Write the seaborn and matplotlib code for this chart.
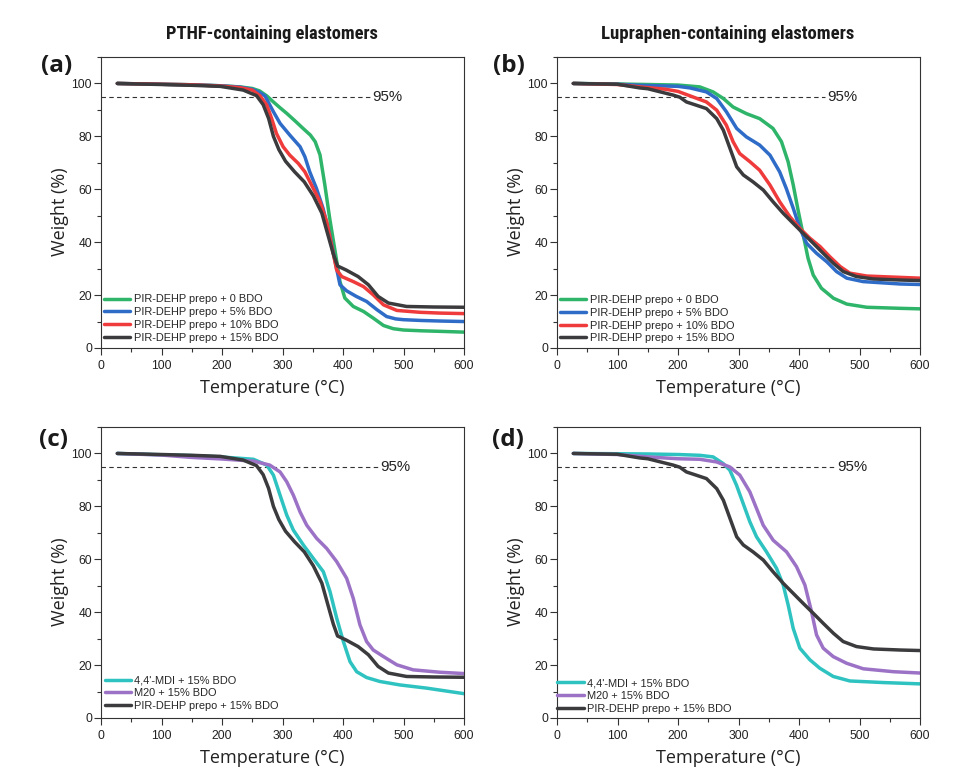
import matplotlib
matplotlib.use("Agg")
import matplotlib.pyplot as plt
from matplotlib import font_manager
from matplotlib.ticker import MultipleLocator
import pandas as pd
import seaborn as sns

# ---------------- TGA data (temperature in °C, residual weight in %) ----------------
# PTHF-containing elastomers
pthf_0_T = [27, 100, 150, 200, 230, 250, 262, 274, 285, 296, 307, 320, 334, 346, 354, 362, 370,
            378, 387, 395, 403, 417, 434, 450, 467, 483, 500, 530, 560, 600]
pthf_0_W = [100, 99.7, 99.5, 99.1, 98.7, 98.1, 97.2, 95.3, 93.0, 90.8, 88.7, 86.0, 83.0, 80.5, 78.0,
            73.0, 61.6, 49.0, 36.5, 25.1, 18.9, 15.7, 13.8, 11.3, 8.5, 7.3, 6.8, 6.5, 6.3, 6.0]

pthf_5_T = [27, 100, 150, 200, 230, 250, 262, 271, 285, 296, 312, 329, 337, 345, 356, 367, 378,
            387, 395, 406, 422, 439, 456, 472, 487, 500, 530, 560, 600]
pthf_5_W = [100, 99.7, 99.5, 99.1, 98.6, 97.8, 96.6, 95.3, 89.3, 84.9, 80.5, 76.1, 72.3, 66.6, 60.4,
            52.8, 42.8, 32.7, 23.9, 21.6, 19.5, 17.6, 14.5, 11.9, 11.0, 10.7, 10.4, 10.2, 10.0]

pthf_10_T = [27, 100, 150, 200, 230, 250, 263, 274, 282, 290, 301, 312, 326, 337, 348, 362, 373,
             381, 389.5, 398, 417, 434, 450, 467, 489, 527, 560, 600]
pthf_10_W = [100, 99.7, 99.5, 99.0, 98.4, 97.5, 95.3, 91.8, 86.8, 81.1, 76.1, 72.9, 69.8, 66.6, 61.6,
             55.3, 47.8, 39.0, 29.5, 27.0, 25.1, 23.2, 20.1, 16.3, 14.2, 13.5, 13.2, 13.0]

pthf_15_T = [27, 100, 150, 197, 235, 257, 268, 277, 285, 294, 305, 320, 336, 351, 365, 376, 384,
             391, 405, 425, 442, 458, 475, 505, 550, 600]
pthf_15_W = [100, 99.6, 99.3, 98.9, 97.5, 95.4, 92.0, 86.8, 80.0, 75.0, 70.6, 66.6, 62.8, 57.5, 51.0,
             42.0, 35.5, 31.0, 29.5, 27.0, 23.9, 19.5, 17.0, 15.7, 15.5, 15.4]

# Lupraphen-containing elastomers
lup_0_T = [27, 100, 150, 200, 236, 258, 275, 291, 313, 335, 357, 371, 382, 390.5, 399, 407, 415,
           423.5, 437, 457, 479, 512, 567, 600]
lup_0_W = [100, 99.8, 99.6, 99.4, 98.7, 96.8, 94.3, 91.1, 88.6, 86.7, 83.0, 78.0, 70.4, 61.6, 51.5,
           42.7, 33.9, 27.6, 22.6, 18.8, 16.6, 15.4, 15.0, 14.8]

lup_5_T = [27, 100, 137, 200, 220, 247, 264, 280, 297, 313, 335, 352, 368, 379, 390.5, 401.5, 412.5,
           429, 446, 462, 479, 506, 567, 600]
lup_5_W = [100, 99.7, 99.3, 98.9, 98.3, 96.8, 94.3, 89.3, 83.0, 79.8, 76.7, 72.9, 66.6, 60.3, 52.8,
           45.2, 39.6, 35.8, 32.6, 28.9, 26.4, 25.1, 24.2, 24.0]

lup_10_T = [27, 100, 137, 180, 200, 220, 247, 264, 280, 291, 302, 319, 335, 352, 368, 385, 401.5,
            418, 435, 451, 468, 484, 512, 567, 600]
lup_10_W = [100, 99.6, 98.7, 97.8, 97.0, 95.3, 93.0, 89.9, 84.2, 78.0, 73.5, 70.4, 67.2, 61.6, 55.3,
            49.6, 45.2, 41.5, 38.3, 34.5, 30.8, 28.3, 27.2, 26.7, 26.4]

lup_15_T = [27, 100, 137, 150, 192, 203, 214, 230, 247, 264, 275, 286, 297, 308, 324, 341, 357, 374,
            390.5, 407, 423.5, 440, 457, 473, 495, 523, 567, 600]
lup_15_W = [100, 99.7, 98.3, 98.0, 95.6, 94.8, 93.0, 91.8, 90.5, 86.7, 82.3, 75.4, 68.5, 65.4, 62.8,
            59.7, 55.3, 50.9, 47.1, 43.3, 39.6, 35.8, 32.0, 28.9, 27.0, 26.1, 25.7, 25.5]

# Reference isocyanates with 15% BDO, PTHF system
mdi_pthf_T = [27, 100, 150, 197, 252, 274, 285, 296, 307, 318, 334.5, 351, 367.5, 378.5, 389.6,
              400.6, 411.6, 422.6, 439, 461, 494, 538, 600]
mdi_pthf_W = [100, 99.5, 99.2, 98.7, 97.8, 95.6, 91.8, 84.2, 76.7, 71.0, 65.4, 60.3, 55.3, 47.8, 37.7,
              28.9, 21.3, 17.5, 15.3, 13.8, 12.5, 11.3, 9.2]

m20_pthf_T = [27, 100, 150, 200, 252, 279, 296, 307, 318, 329, 340, 356.5, 373, 389.6, 406, 417, 428,
              439, 450, 467, 489, 516, 560, 600]
m20_pthf_W = [100, 99.4, 98.5, 97.9, 97.1, 95.6, 93.0, 89.3, 84.2, 77.9, 72.9, 67.9, 64.1, 59.1, 52.8,
              45.2, 35.2, 28.9, 25.7, 23.2, 20.1, 18.2, 17.3, 16.8]

# Reference isocyanates with 15% BDO, Lupraphen system
mdi_lup_T = [27, 100, 150, 200, 236, 258, 274.6, 285.6, 296.7, 307.7, 318.7, 329.8, 346.3, 362.8,
             373.9, 382.1, 390.4, 401.4, 418, 434.5, 456.6, 484, 539, 600]
mdi_lup_W = [100, 99.9, 99.8, 99.6, 99.3, 98.7, 96.2, 93.7, 88.0, 81.1, 74.2, 68.5, 62.8, 56.6, 50.3,
             42.7, 33.9, 26.4, 22.0, 18.8, 15.7, 14.0, 13.4, 12.9]

m20_lup_T = [27, 100, 150, 200, 236, 263.6, 285.6, 302.2, 318.7, 329.8, 340.8, 357.3, 379.4, 395.9,
             409.7, 420.7, 429, 440, 456.6, 478.6, 506.2, 556, 600]
m20_lup_W = [100, 99.6, 98.7, 98.0, 97.8, 96.8, 94.9, 91.8, 85.5, 79.2, 72.9, 67.2, 62.8, 57.2, 50.3,
             40.2, 31.4, 26.4, 23.2, 20.7, 18.6, 17.5, 17.0]

bdo_labels = ["PIR-DEHP prepo + 0 BDO", "PIR-DEHP prepo + 5% BDO",
              "PIR-DEHP prepo + 10% BDO", "PIR-DEHP prepo + 15% BDO"]
iso_labels = ["4,4'-MDI + 15% BDO", "M20 + 15% BDO", "PIR-DEHP prepo + 15% BDO"]
column_titles = ["PTHF-containing elastomers", "Lupraphen-containing elastomers"]
panel_letters = ["(a)", "(b)", "(c)", "(d)"]

threshold = 95
threshold_label = "95%"

C_GREEN, C_BLUE, C_RED, C_DARK = "#2fb56a", "#2f6cc8", "#ef3b3b", "#3b3b3e"
C_CYAN, C_PURPLE = "#2ec3c0", "#9c72c6"

# ---------------- styling ----------------
sns.set_theme(style="ticks")
plt.rcParams["font.family"] = ["Liberation Sans", "DejaVu Sans"]
plt.rcParams["axes.edgecolor"] = "#333333"
plt.rcParams["axes.linewidth"] = 0.8

# narrow bold face for the column headings, best available
installed = {f.name for f in font_manager.fontManager.ttflist}
heading_family = next((n for n in ["Liberation Sans Narrow", "Roboto Condensed",
                                   "Open Sans Condensed", "DejaVu Sans Condensed",
                                   "Noto Sans Condensed", "Liberation Sans"]
                       if n in installed), "DejaVu Sans")

W_PX, H_PX = 957, 771
fig = plt.figure(figsize=(W_PX / 100, H_PX / 100), dpi=100)


def axes_rect(left, top, right, bottom):
    return [left / W_PX, 1 - bottom / H_PX, (right - left) / W_PX, (bottom - top) / H_PX]


panels = [
    dict(rect=axes_rect(101, 57, 464, 348),
         series=[(bdo_labels[0], pthf_0_T, pthf_0_W, C_GREEN),
                 (bdo_labels[1], pthf_5_T, pthf_5_W, C_BLUE),
                 (bdo_labels[2], pthf_10_T, pthf_10_W, C_RED),
                 (bdo_labels[3], pthf_15_T, pthf_15_W, C_DARK)],
         dash_end=445, legend_anchor=(0.008, 0.018), letter_xy=(41, 66)),
    dict(rect=axes_rect(557, 57, 920, 348),
         series=[(bdo_labels[0], lup_0_T, lup_0_W, C_GREEN),
                 (bdo_labels[1], lup_5_T, lup_5_W, C_BLUE),
                 (bdo_labels[2], lup_10_T, lup_10_W, C_RED),
                 (bdo_labels[3], lup_15_T, lup_15_W, C_DARK)],
         dash_end=443, legend_anchor=(0.008, 0.016), letter_xy=(493, 66)),
    dict(rect=axes_rect(101, 427, 464, 718),
         series=[(iso_labels[0], mdi_pthf_T, mdi_pthf_W, C_CYAN),
                 (iso_labels[1], m20_pthf_T, m20_pthf_W, C_PURPLE),
                 (iso_labels[2], pthf_15_T, pthf_15_W, C_DARK)],
         dash_end=458, legend_anchor=(0.01, 0.024), letter_xy=(39, 440)),
    dict(rect=axes_rect(557, 427, 920, 718),
         series=[(iso_labels[0], mdi_lup_T, mdi_lup_W, C_CYAN),
                 (iso_labels[1], m20_lup_T, m20_lup_W, C_PURPLE),
                 (iso_labels[2], lup_15_T, lup_15_W, C_DARK)],
         dash_end=460, legend_anchor=(0.0, 0.015), letter_xy=(492, 440)),
]

for i, p in enumerate(panels):
    ax = fig.add_axes(p["rect"])
    for label, T, Wt, color in p["series"]:
        df = pd.DataFrame({"Temperature": T, "Weight": Wt})
        sns.lineplot(data=df, x="Temperature", y="Weight", ax=ax, color=color,
                     linewidth=2.5, label=label, sort=False, estimator=None)

    # 95 % weight-loss reference
    ax.hlines(threshold, 0, p["dash_end"], colors="#333333", linestyles=(0, (4, 3)),
              linewidth=0.8, zorder=1)
    ax.text(p["dash_end"] + 4, threshold, threshold_label, fontsize=10.8,
            va="center", ha="left", color="#222222")

    ax.set_xlim(0, 600)
    ax.set_ylim(0, 110)
    ax.xaxis.set_major_locator(MultipleLocator(100))
    ax.xaxis.set_minor_locator(MultipleLocator(50))
    ax.yaxis.set_major_locator(MultipleLocator(20))
    ax.yaxis.set_minor_locator(MultipleLocator(10))
    ax.set_yticks([0, 20, 40, 60, 80, 100])
    ax.tick_params(which="major", direction="out", length=5, width=0.8, color="#333333",
                   labelsize=8.7, labelcolor="#222222")
    ax.tick_params(which="minor", direction="out", length=3, width=0.8, color="#333333")
    ax.tick_params(axis="x", which="major", pad=3.5)
    ax.tick_params(axis="y", which="major", pad=1.5)

    ax.set_xlabel("Temperature (°C)", fontsize=13, family=["Open Sans", "DejaVu Sans"],
                  color="#222222")
    ax.set_ylabel("Weight (%)", fontsize=13, family=["Open Sans", "DejaVu Sans"],
                  color="#222222")
    ax.xaxis.set_label_coords(0.472, -0.105)
    ax.yaxis.set_label_coords(-0.087, 0.467)

    ax.legend(loc="lower left", bbox_to_anchor=p["legend_anchor"], frameon=False,
              fontsize=7.95, handlelength=2.4, handletextpad=0.3, labelspacing=0.25,
              borderaxespad=0.0, borderpad=0.0)

    lx, ly = p["letter_xy"]
    fig.text(lx / W_PX, 1 - ly / H_PX, panel_letters[i], fontsize=17.5,
             family=["Open Sans", "DejaVu Sans"], weight="bold",
             ha="left", va="center", color="#1a1a1a")

# column headings, sized so each spans its measured width
renderer = fig.canvas.get_renderer()
for title, cx, width_px in zip(column_titles, [272, 728], [213, 257]):
    t = fig.text(cx / W_PX, 1 - 39 / H_PX, title, fontsize=13.5, weight="bold",
                 family=[heading_family, "DejaVu Sans"], ha="center",
                 va="baseline", color="#1a1a1a")
    w = t.get_window_extent(renderer).width
    t.set_fontsize(min(13.5, 13.5 * width_px / w))

fig.savefig("out.png", dpi=100, facecolor="white")
